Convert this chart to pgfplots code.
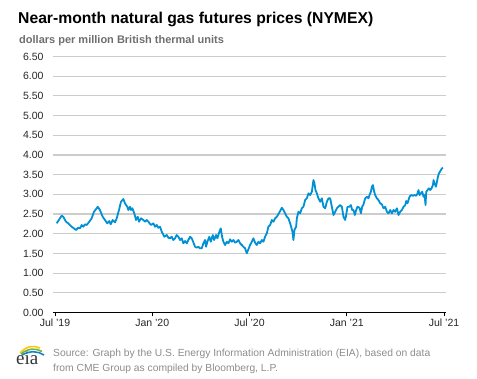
\documentclass[border=0pt]{standalone}
\usepackage{pgfplots}
\pgfplotsset{compat=1.18}
\usepackage{fontspec}
\setmainfont{Liberation Sans}
\newfontfamily\seriffont{Liberation Serif}
\definecolor{eiablue}{RGB}{0,145,212}
\definecolor{gridgray}{RGB}{204,204,204}
\definecolor{subgray}{RGB}{110,110,110}
\definecolor{srcgray}{RGB}{140,140,140}
\definecolor{logoyellow}{RGB}{250,200,20}
\definecolor{logogreen}{RGB}{110,180,60}
\definecolor{logoblue}{RGB}{20,130,200}
\begin{document}
\begin{tikzpicture}[x=1pt,y=1pt]
\path[use as bounding box] (0,0) rectangle (477,379);
\node[anchor=base west,inner sep=0pt,font=\fontsize{15.7}{18}\selectfont\bfseries] at (18,355) {Near-month natural gas futures prices (NYMEX)};
\node[anchor=base west,inner sep=0pt,font=\fontsize{11}{13}\selectfont\bfseries,text=subgray] at (19,335.5) {dollars per million British thermal units};
\begin{axis}[
  at={(53pt,66.5pt)}, anchor=south west,
  scale only axis, width=393pt, height=256pt,
  xmin=-0.12, xmax=24.12, ymin=0, ymax=6.5,
  ytick={0,0.5,...,6.5},
  xtick={0,6,12,18,24},
  xticklabels={Jul '19,Jan '20,Jul '20,Jan '21,Jul '21},
  axis x line*=bottom, axis y line*=left,
  axis line style={-},
  x axis line style={black,line width=1pt},
  y axis line style={draw=none},
  ytick style={draw=none},
  xtick style={black,line width=0.8pt},
  tick align=outside, major tick length=4pt,
  ymajorgrids, grid style={gridgray,line width=1.2pt},
  /pgf/number format/assume math mode=true,
  yticklabel={\pgfmathprintnumber[fixed,fixed zerofill,precision=2]{\tick}},
  ticklabel style={font=\fontsize{10.5}{12}\selectfont, text=black!85},
  yticklabel style={xshift=-2pt},
  xticklabel style={yshift=1pt},
  clip=false,
]
\addplot[eiablue, line width=1.8pt, line join=round] table {
x y
0.105 2.264
0.414 2.457
0.512 2.431
0.679 2.305
0.821 2.264
1.031 2.178
1.173 2.137
1.296 2.094
1.438 2.152
1.543 2.137
1.648 2.221
1.747 2.178
1.852 2.239
1.957 2.221
2.117 2.305
2.265 2.391
2.407 2.558
2.574 2.645
2.636 2.685
2.778 2.602
2.944 2.431
3.086 2.348
3.228 2.264
3.352 2.322
3.438 2.239
3.562 2.348
3.704 2.289
3.809 2.391
3.951 2.602
4.074 2.812
4.216 2.881
4.321 2.772
4.463 2.685
4.525 2.602
4.630 2.685
4.691 2.602
4.772 2.645
4.895 2.518
5.000 2.348
5.105 2.431
5.185 2.305
5.309 2.391
5.451 2.348
5.556 2.305
5.660 2.348
5.759 2.305
5.926 2.221
6.068 2.264
6.173 2.178
6.278 2.221
6.377 2.152
6.481 2.178
6.586 2.051
6.747 1.924
6.895 1.967
6.994 1.898
7.099 1.883
7.204 1.924
7.302 1.840
7.407 1.883
7.512 1.967
7.611 1.924
7.716 1.840
7.821 1.883
7.920 1.756
8.025 1.815
8.130 1.756
8.228 1.840
8.333 1.924
8.438 1.883
8.537 1.782
8.642 1.670
8.747 1.645
8.846 1.670
8.951 1.629
9.056 1.629
9.154 1.756
9.259 1.840
9.321 1.670
9.401 1.797
9.525 1.924
9.611 1.797
9.735 1.967
9.815 1.840
9.938 1.967
10.019 1.883
10.142 2.051
10.228 2.137
10.309 1.924
10.389 1.797
10.494 1.713
10.599 1.797
10.698 1.756
10.802 1.858
10.907 1.797
11.006 1.840
11.111 1.772
11.216 1.797
11.315 1.840
11.420 1.756
11.525 1.713
11.623 1.670
11.728 1.629
11.833 1.503
11.932 1.604
12.037 1.713
12.142 1.797
12.241 1.883
12.346 1.772
12.451 1.713
12.549 1.797
12.654 1.756
12.759 1.840
12.858 1.797
12.963 1.924
13.068 2.010
13.167 2.178
13.272 2.221
13.377 2.348
13.475 2.305
13.580 2.391
13.685 2.431
13.784 2.500
13.889 2.576
13.994 2.660
14.093 2.602
14.198 2.518
14.302 2.431
14.401 2.391
14.506 2.264
14.568 2.178
14.648 2.051
14.710 1.840
14.772 2.094
14.877 2.178
14.920 2.391
15.019 2.558
15.123 2.518
15.228 2.645
15.327 2.685
15.432 2.855
15.537 2.898
15.636 3.025
15.741 2.982
15.846 3.066
15.944 3.363
16.006 3.279
16.068 3.109
16.154 3.025
16.253 2.898
16.358 2.812
16.463 2.898
16.562 2.685
16.667 2.645
16.772 2.812
16.870 2.898
16.975 2.898
17.080 2.685
17.179 2.475
17.284 2.558
17.389 2.645
17.488 2.685
17.593 2.728
17.698 2.685
17.796 2.431
17.901 2.348
17.963 2.475
18.043 2.685
18.167 2.685
18.253 2.728
18.333 2.602
18.414 2.602
18.500 2.475
18.580 2.602
18.660 2.685
18.784 2.660
18.870 2.518
18.951 2.685
19.031 2.746
19.136 2.898
19.241 2.939
19.340 2.898
19.401 2.982
19.488 3.066
19.549 3.193
19.611 3.236
19.691 3.066
19.753 2.982
19.858 2.898
19.957 2.855
20.062 2.772
20.167 2.746
20.265 2.645
20.370 2.685
20.475 2.558
20.574 2.518
20.679 2.602
20.784 2.518
20.883 2.602
20.988 2.558
21.093 2.645
21.191 2.475
21.296 2.558
21.401 2.602
21.500 2.685
21.605 2.728
21.667 2.830
21.747 2.772
21.870 2.939
21.975 2.982
22.080 2.964
22.179 2.982
22.284 2.964
22.364 3.025
22.426 3.109
22.488 2.982
22.574 3.025
22.654 3.066
22.735 2.939
22.796 2.982
22.858 2.728
22.901 3.066
22.981 3.109
23.068 3.152
23.148 3.109
23.228 3.152
23.315 3.236
23.352 3.363
23.414 3.279
23.500 3.193
23.562 3.320
23.623 3.447
23.685 3.533
23.747 3.574
23.809 3.617
23.870 3.660
23.932 3.675
};
\end{axis}
% source note
\node[anchor=base west,inner sep=0pt,font=\fontsize{10.3}{12}\selectfont,text=srcgray] at (53,22) {Source: Graph by the U.S. Energy Information Administration (EIA), based on data};
\node[anchor=base west,inner sep=0pt,font=\fontsize{10.3}{12}\selectfont,text=srcgray] at (53,7) {from CME Group as compiled by Bloomberg, L.P.};
% logo
\node[anchor=base west,inner sep=0pt,font=\fontsize{19}{20}\selectfont\seriffont,text=black!80] at (16,14) {eia};
\draw[logoyellow,line width=1.6pt] (20,26) .. controls (26,33) and (34,34) .. (40,31);
\draw[logogreen,line width=1.6pt] (21,25) .. controls (28,31) and (36,31) .. (42,27.5);
\draw[logoblue,line width=1.6pt] (22,24) .. controls (30,28.5) and (38,28) .. (44,24);
\end{tikzpicture}
\end{document}
